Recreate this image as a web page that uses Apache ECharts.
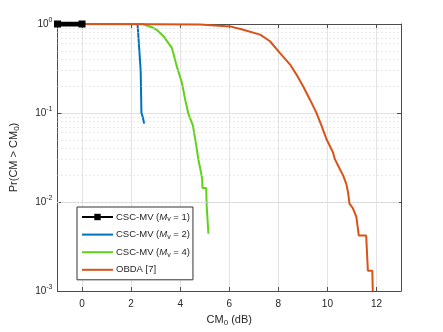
<!DOCTYPE html>
<html>
<head>
<meta charset="utf-8">
<script src="https://cdn.jsdelivr.net/npm/echarts@6/dist/echarts.min.js"></script>
<style>
  html, body { margin: 0; padding: 0; background: #fff; }
  #chart { width: 443px; height: 332px; }
</style>
</head>
<body>
<div id="chart"></div>
<script>
// x ticks and minor y grid values
var xTicks = [0, 2, 4, 6, 8, 10, 12];
var yMinor = [0.002, 0.003, 0.004, 0.005, 0.006, 0.007, 0.008, 0.009,
              0.02, 0.03, 0.04, 0.05, 0.06, 0.07, 0.08, 0.09,
              0.2, 0.3, 0.4, 0.5, 0.6, 0.7, 0.8, 0.9];

var seriesNames = ['CSC-MV (Mv = 1)', 'CSC-MV (Mv = 2)', 'CSC-MV (Mv = 4)', 'OBDA [7]'];

var mv1X = [-1, 0];
var mv1Y = [1, 1];

var mv2X = [-1, 2.26, 2.28, 2.30, 2.37, 2.39, 2.42, 2.48, 2.51, 2.53];
var mv2Y = [1, 1, 0.85, 0.70, 0.67, 0.30, 0.101, 0.089, 0.085, 0.076];

var mv4X = [-1, 2.5, 2.63, 2.85, 3.04, 3.32, 3.66, 3.86, 4.07, 4.2, 4.34, 4.52, 4.68, 4.74, 4.82, 4.89, 4.91, 5.06, 5.08, 5.13, 5.15];
var mv4Y = [1, 1, 0.96, 0.92, 0.86, 0.73, 0.54, 0.336, 0.219, 0.143, 0.097, 0.072, 0.039, 0.030, 0.0236, 0.0186, 0.0144, 0.0144, 0.0091, 0.0091, 0.0044];

var obdaX = [-1, 3, 4.8, 6.03, 6.57, 7.26, 7.66, 8.07, 8.48, 8.74, 9.01, 9.28, 9.55, 9.76, 9.96, 10.23, 10.3, 10.5, 10.64, 10.77, 10.84, 10.9, 11.04, 11.18, 11.28, 11.58, 11.65, 11.83, 11.85];
var obdaY = [1, 0.995, 0.985, 0.94, 0.86, 0.76, 0.64, 0.47, 0.35, 0.27, 0.20, 0.143, 0.101, 0.072, 0.051, 0.036, 0.0305, 0.0236, 0.0199, 0.016, 0.0129, 0.0096, 0.0085, 0.0068, 0.0042, 0.0042, 0.00169, 0.00169, 0.001];

var zip = function (xs, ys) {
  return xs.map(function (x, i) { return [x, ys[i]]; });
};

var font = 'Liberation Sans, Arial, sans-serif';
var textColor = '#262626';
var axisColor = '#4d4d4d';
var lineIcon = 'path://M0,0H31V2H0Z';

var legendLabel = function (name) {
  var m = name.match(/Mv = (\d)/);
  if (m) {
    return 'CSC-MV ({i|M}{s|v} = ' + m[1] + ')';
  }
  return name;
};

var getOptionChart = function () {
  return {
    animation: false,
    textStyle: { fontFamily: font },
    grid: { left: 57, top: 24, right: 42, bottom: 39 },
    legend: {
      data: [
        { name: seriesNames[0] },
        { name: seriesNames[1], icon: lineIcon },
        { name: seriesNames[2], icon: lineIcon },
        { name: seriesNames[3], icon: lineIcon }
      ],
      orient: 'vertical',
      left: 77,
      top: 207,
      backgroundColor: '#fff',
      borderColor: '#333',
      borderWidth: 1,
      borderRadius: 0,
      padding: [4, 3, 4, 4],
      itemWidth: 31,
      itemHeight: 8,
      itemGap: 5.6,
      formatter: legendLabel,
      textStyle: {
        fontSize: 9.5, color: textColor, lineHeight: 12, padding: [0, 0, 0, -2],
        rich: {
          i: { fontSize: 9.5, fontStyle: 'italic', color: textColor },
          s: { fontSize: 7, color: textColor, verticalAlign: 'bottom', padding: [4, 0, 0, 0] }
        }
      }
    },
    xAxis: [{
      type: 'value',
      min: -1,
      max: 13,
      name: '{a|CM}{s|0}{a| (dB)}',
      nameLocation: 'middle',
      nameGap: 22,
      nameTextStyle: {
        rich: {
          a: { fontSize: 11, color: textColor },
          s: { fontSize: 8, color: textColor, padding: [6, 0, 0, 0] }
        }
      },
      axisLine: { show: true, onZero: false, lineStyle: { color: axisColor } },
      axisTick: { show: true, inside: true, length: 4, customValues: xTicks, lineStyle: { color: axisColor } },
      axisLabel: { customValues: xTicks, fontSize: 10, color: textColor, margin: 8 },
      splitLine: { show: true, lineStyle: { color: '#e3e3e3', width: 1 } }
    }, {
      type: 'value',
      min: -1,
      max: 13,
      position: 'top',
      axisLine: { show: true, onZero: false, lineStyle: { color: axisColor } },
      axisTick: { show: true, inside: true, length: 4, customValues: xTicks, lineStyle: { color: axisColor } },
      axisLabel: { show: false },
      splitLine: { show: false }
    }],
    yAxis: [{
      type: 'log',
      logBase: 10,
      min: 0.001,
      max: 1,
      name: '{a|Pr(CM > CM}{s|0}{a|)}',
      nameLocation: 'middle',
      nameGap: 37,
      nameRotate: 90,
      nameTextStyle: {
        rich: {
          a: { fontSize: 11, color: textColor },
          s: { fontSize: 8, color: textColor, padding: [6, 0, 0, 0] }
        }
      },
      axisLine: { show: true, onZero: false, lineStyle: { color: axisColor } },
      axisTick: { show: true, inside: true, length: 4, lineStyle: { color: axisColor } },
      axisLabel: {
        fontSize: 10, color: textColor, margin: 5,
        formatter: function (v) {
          return '{b|10}{s|' + Math.round(Math.log10(v)) + '}';
        },
        rich: {
          b: { fontSize: 10, color: textColor },
          s: { fontSize: 7, color: textColor, padding: [0, 0, 7, 0] }
        }
      },
      splitLine: { show: true, lineStyle: { color: '#e3e3e3', width: 1 } }
    }, {
      type: 'log',
      logBase: 10,
      min: 0.001,
      max: 1,
      position: 'right',
      axisLine: { show: true, onZero: false, lineStyle: { color: axisColor } },
      axisTick: { show: true, inside: true, length: 4, lineStyle: { color: axisColor } },
      axisLabel: { show: false },
      splitLine: { show: false }
    }],
    series: [
      {
        name: 'minor-grid',
        type: 'line',
        data: [],
        silent: true,
        z: 1,
        markLine: {
          silent: true,
          symbol: 'none',
          label: { show: false },
          lineStyle: { color: '#d4d4d4', type: [1, 3], width: 1 },
          data: yMinor.map(function (v) { return { yAxis: v }; })
        }
      },
      {
        name: seriesNames[1],
        type: 'line',
        data: zip(mv2X, mv2Y),
        showSymbol: false,
        symbol: 'none',
        lineStyle: { color: '#0072bd', width: 2 },
        itemStyle: { color: '#0072bd' },
        z: 3
      },
      {
        name: seriesNames[2],
        type: 'line',
        data: zip(mv4X, mv4Y),
        showSymbol: false,
        symbol: 'none',
        lineStyle: { color: '#5fd21a', width: 2 },
        itemStyle: { color: '#5fd21a' },
        z: 4
      },
      {
        name: seriesNames[3],
        type: 'line',
        data: zip(obdaX, obdaY),
        showSymbol: false,
        symbol: 'none',
        lineStyle: { color: '#d95319', width: 2 },
        itemStyle: { color: '#d95319' },
        z: 5
      },
      {
        name: seriesNames[0],
        type: 'line',
        data: zip(mv1X, mv1Y),
        symbol: 'rect',
        symbolSize: 7,
        lineStyle: { color: '#000', width: 5 },
        itemStyle: { color: '#000' },
        z: 6
      }
    ]
  };
};

var initCharts = function () {
  var chart = echarts.init(document.getElementById('chart'), null, { renderer: 'canvas' });
  chart.setOption(getOptionChart());
};

window.addEventListener('load', function () {
  initCharts();
});
</script>
</body>
</html>
